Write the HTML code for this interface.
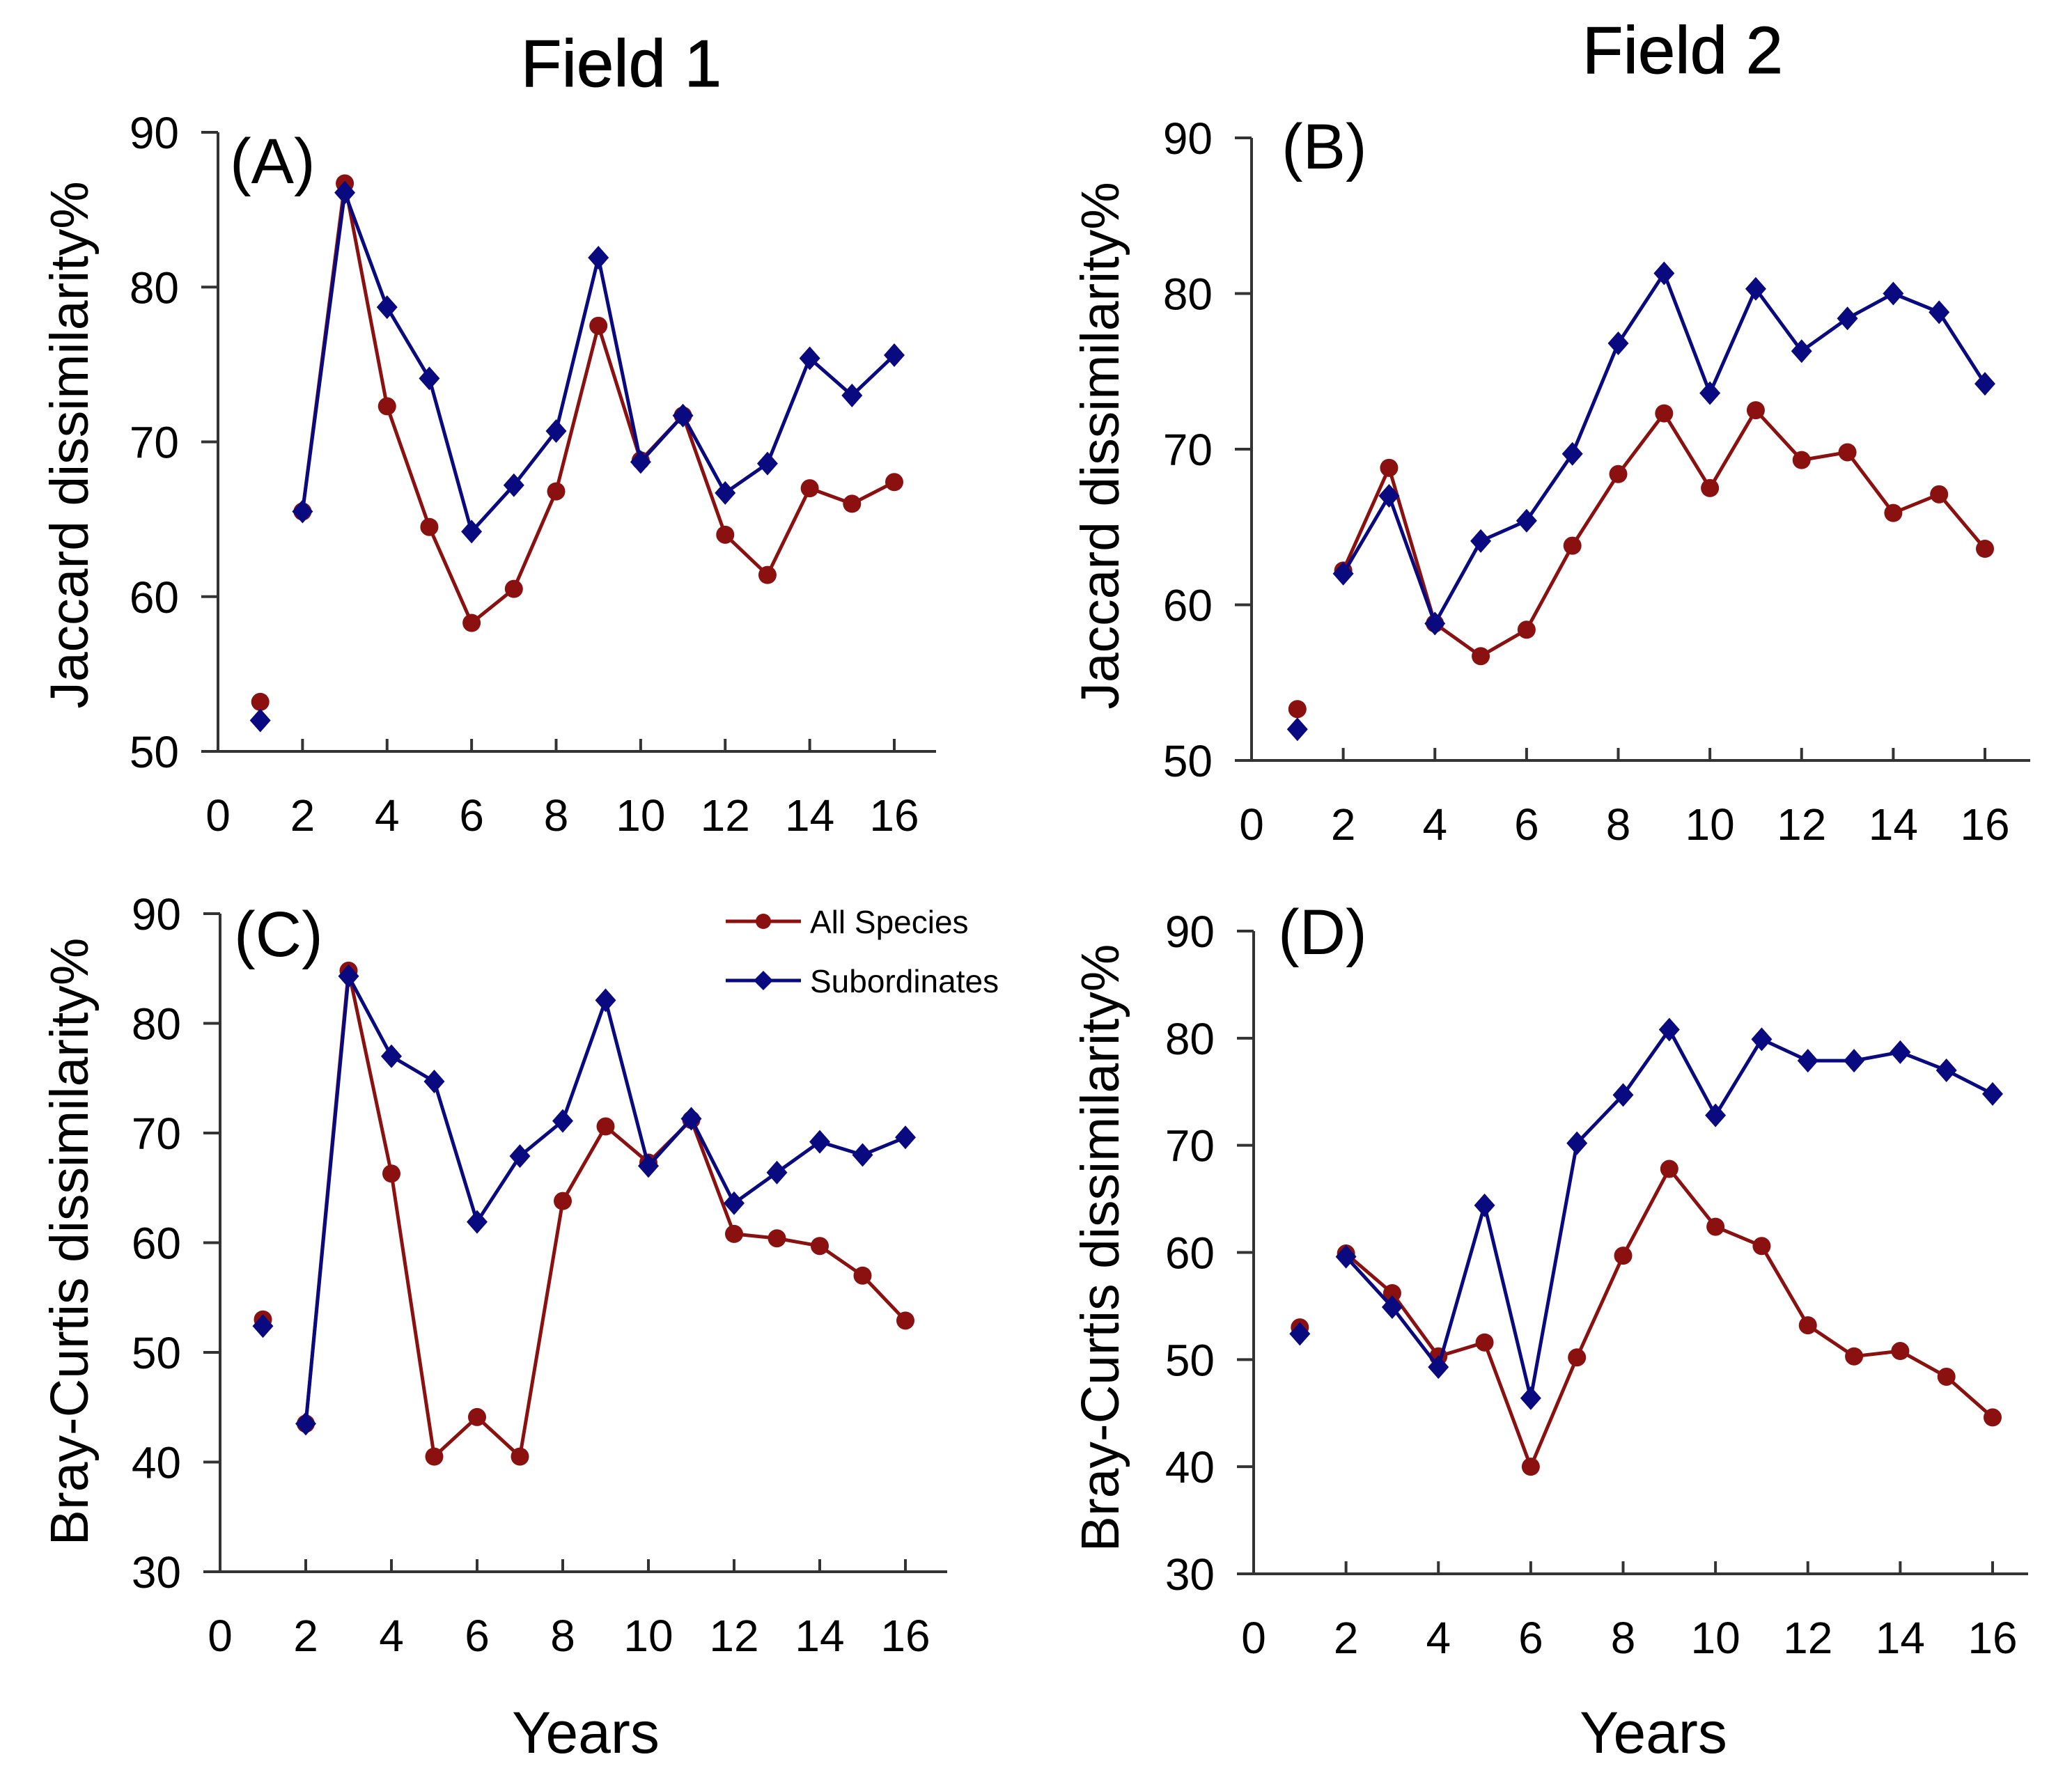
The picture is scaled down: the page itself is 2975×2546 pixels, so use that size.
<!DOCTYPE html>
<html><head><meta charset="utf-8"><style>
html,body{margin:0;padding:0;background:#fff;}
svg{display:block;font-family:"Liberation Sans",Arial,sans-serif;}
</style></head><body>
<svg id="fig" width="2975" height="2546" viewBox="0 0 2975 2546" xmlns="http://www.w3.org/2000/svg">
<text x="892" y="124" font-size="96" text-anchor="middle" stroke="#000" stroke-width="1">Field 1</text>
<text x="2416" y="105" font-size="96" text-anchor="middle" stroke="#000" stroke-width="1">Field 2</text>
<g>
<line x1="1042" y1="1323" x2="1150" y2="1323" stroke="#8b1010" stroke-width="5"/>
<circle cx="1096" cy="1323" r="11" fill="#8b1010"/>
<text x="1163" y="1340" font-size="46">All Species</text>
<line x1="1042" y1="1408" x2="1150" y2="1408" stroke="#0a0a80" stroke-width="5"/>
<polygon points="1096,1394 1110,1408 1096,1422 1082,1408" fill="#0a0a80"/>
<text x="1163" y="1425" font-size="46">Subordinates</text>
</g>
</svg>
<script>
const years=[1,2,3,4,5,6,7,8,9,10,11,12,13,14,15,16];
const xTicks=[0,2,4,6,8,10,12,14,16];
const yTicksJ=[50,60,70,80,90];
const yTicksB=[30,40,50,60,70,80,90];
const aAll=[53.2,65.5,86.7,72.3,64.5,58.3,60.5,66.8,77.5,68.8,71.7,64,61.4,67,66,67.4];
const aSub=[52,65.5,86.1,78.7,74.1,64.2,67.2,70.7,81.9,68.7,71.7,66.7,68.6,75.4,73,75.6];
const bAll=[53.3,62.2,68.8,58.8,56.7,58.4,63.8,68.4,72.3,67.5,72.5,69.3,69.8,65.9,67.1,63.6];
const bSub=[52,62,67,58.8,64.1,65.4,69.7,76.8,81.3,73.6,80.3,76.3,78.4,80,78.8,74.2];
const cAll=[53,43.5,84.8,66.3,40.5,44.1,40.5,63.8,70.6,67.3,71.2,60.8,60.4,59.7,57,52.9];
const cSub=[52.4,43.5,84.3,77,74.7,61.9,67.9,71.1,82.1,67,71.3,63.6,66.4,69.2,68,69.6];
const dAll=[53,59.9,56.2,50.3,51.6,40,50.2,59.7,67.8,62.4,60.6,53.2,50.3,50.8,48.4,44.6];
const dSub=[52.4,59.6,54.9,49.3,64.4,46.4,70.2,74.7,80.8,72.8,79.9,77.9,77.9,78.7,77,74.8];

const NS="http://www.w3.org/2000/svg";
const svg=document.getElementById('fig');
function mk(tag,attrs,parent){const e=document.createElementNS(NS,tag);for(const k in attrs)e.setAttribute(k,attrs[k]);(parent||svg).appendChild(e);return e;}
const RED="#8b1010",BLUE="#0a0a80",AX="#333";
const panels=[
 {id:'a',label:'(A)',lx:330,ly:263,x0:313,x16:1284,xEnd:1344,yBot:1079,yTop:190,ymin:50,ymax:90,yt:yTicksJ,all:aAll,sub:aSub,yt_title:'Jaccard dissimilarity%',tx:99,ty:639,years:false},
 {id:'b',label:'(B)',lx:1840,ly:242,x0:1797,x16:2850,xEnd:2915,yBot:1092,yTop:198,ymin:50,ymax:90,yt:yTicksJ,all:bAll,sub:bSub,yt_title:'Jaccard dissimilarity%',tx:1579,ty:640,years:false},
 {id:'c',label:'(C)',lx:336,ly:1373,x0:316,x16:1300,xEnd:1360,yBot:2257,yTop:1312,ymin:30,ymax:90,yt:yTicksB,all:cAll,sub:cSub,yt_title:'Bray-Curtis dissimilarity%',tx:99,ty:1783,years:true,yx:841},
 {id:'d',label:'(D)',lx:1835,ly:1370,x0:1800,x16:2861,xEnd:2912,yBot:2260,yTop:1337,ymin:30,ymax:90,yt:yTicksB,all:dAll,sub:dSub,yt_title:'Bray-Curtis dissimilarity%',tx:1579,ty:1792,years:true,yx:2374}
];
panels.forEach(p=>{
 const g=mk('g',{});
 
 
 const X=v=>p.x0+(p.x16-p.x0)*v/16;
 const Y=v=>p.yBot-(p.yBot-p.yTop)*(v-p.ymin)/(p.ymax-p.ymin);
 const ya=mk('line',{x1:p.x0,y1:p.yTop,x2:p.x0,y2:p.yBot,stroke:AX,'stroke-width':4},g);
 
 
 const xa=mk('line',{x1:p.x0-24,y1:p.yBot,x2:p.xEnd,y2:p.yBot,stroke:AX,'stroke-width':4},g);
 
 
 p.yt.forEach(v=>{
  mk('line',{x1:p.x0-24,y1:Y(v),x2:p.x0,y2:Y(v),stroke:AX,'stroke-width':4},g);
  const t=mk('text',{x:p.x0-56,y:Y(v)+23,'font-size':64,'text-anchor':'end'},g);
  
  
  t.textContent=v;
 });
 xTicks.forEach(v=>{
  if(v>0)mk('line',{x1:X(v),y1:p.yBot-18,x2:X(v),y2:p.yBot,stroke:AX,'stroke-width':4},g);
  const t=mk('text',{x:X(v),y:p.yBot+114,'font-size':64,'text-anchor':'middle'},g);
  
  
  t.textContent=v;
 });
 const yt=mk('text',{x:p.tx,y:p.ty,'font-size':77,'text-anchor':'middle',transform:`rotate(-90 ${p.tx} ${p.ty})`,dy:27},g);
 
 
 yt.textContent=p.yt_title;
 const pl=mk('text',{x:p.lx,y:p.ly,'font-size':92},g);
 
 
 pl.textContent=p.label;
 if(p.years){
  const yr=mk('text',{x:p.yx,y:2517,'font-size':84,'text-anchor':'middle'},g);
  
  
  yr.textContent='Years';
 }
 [[p.all,RED,'all-species'],[p.sub,BLUE,'subordinates']].forEach(([vals,col,nm])=>{
  const pts=years.slice(1).map((yv,i)=>X(yv)+','+Y(vals[i+1])).join(' ');
  const ln=mk('polyline',{points:pts,fill:'none',stroke:col,'stroke-width':5},g);
  
  
  years.forEach((yv,i)=>{
   const cx=X(yv),cy=Y(vals[i]);
   let m;
   if(nm==='all-species') m=mk('circle',{cx:cx,cy:cy,r:13,fill:col},g);
   else m=mk('polygon',{points:`${cx},${cy-17} ${cx+15},${cy} ${cx},${cy+17} ${cx-15},${cy}`,fill:col},g);
   
   
  });
 });
});
</script>
</body></html>
